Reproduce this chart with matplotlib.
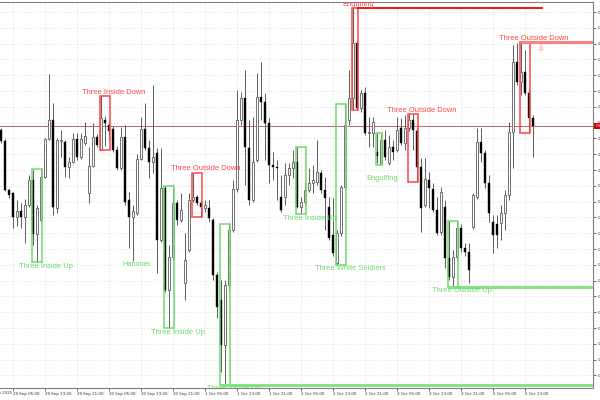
import matplotlib
matplotlib.use("Agg")
import matplotlib.pyplot as plt
from matplotlib.patches import Rectangle
import numpy as np

# hourly candles, 29 Sep 02:00 .. 6 Oct 11:00 (price in chart units)
open_ = [270, 259, 210, 207, 183, 189, 183, 195, 220, 166,
         180, 223, 261, 280, 192, 259, 258, 233, 238, 261,
         243, 257, 207, 234, 263, 250, 280, 275, 271, 250,
         232, 263, 200, 183, 187, 241, 271, 252, 238, 247,
         160, 212, 110, 143, 197, 180, 117, 150, 200, 203,
         197, 192, 192, 180, 125, 100, 55, 115, 170, 211,
         280, 302, 252, 200, 240, 303, 298, 277, 235, 233,
         203, 203, 225, 232, 238, 193, 198, 210, 217, 218,
         227, 210, 193, 165, 137, 167, 213, 280, 302, 357,
         292, 307, 267, 267, 248, 237, 260, 237, 253, 250,
         272, 257, 272, 280, 269, 233, 195, 220, 211, 190,
         168, 193, 142, 123, 143, 172, 152, 148, 173, 203,
         258, 247, 217, 178, 176, 177, 187, 205, 268, 338,
         318, 328, 307, 282]
high = [272, 261, 211, 208, 200, 197, 201, 225, 230, 195,
        231, 262, 326, 297, 262, 270, 260, 243, 267, 267,
        267, 278, 253, 277, 266, 304, 284, 278, 274, 254,
        273, 275, 208, 195, 246, 283, 297, 260, 315, 252,
        252, 214, 155, 212, 200, 207, 167, 207, 227, 205,
        200, 200, 200, 182, 128, 120, 120, 176, 220, 310,
        308, 330, 280, 283, 327, 338, 307, 282, 248, 240,
        225, 237, 237, 250, 253, 203, 218, 232, 235, 260,
        230, 223, 203, 202, 170, 215, 296, 330, 392, 360,
        310, 313, 283, 283, 267, 267, 270, 265, 260, 283,
        282, 285, 286, 286, 272, 242, 242, 228, 217, 203,
        213, 200, 179, 150, 179, 176, 157, 157, 207, 272,
        272, 250, 225, 185, 185, 195, 210, 278, 355, 357,
        358, 350, 310, 285]
low = [257, 209, 202, 172, 174, 172, 157, 193, 155, 138,
       178, 222, 260, 185, 187, 243, 223, 222, 237, 240,
       241, 255, 197, 233, 253, 250, 254, 260, 248, 230,
       230, 195, 152, 139, 185, 240, 250, 222, 227, 127,
       158, 108, 72, 140, 175, 178, 100, 148, 198, 195,
       183, 188, 178, 120, 82, 28, 15, 110, 168, 208,
       275, 215, 195, 198, 238, 280, 240, 217, 220, 200,
       188, 195, 215, 222, 192, 186, 196, 208, 207, 215,
       207, 170, 160, 144, 135, 164, 210, 275, 290, 290,
       288, 265, 253, 253, 237, 235, 240, 235, 240, 248,
       255, 250, 269, 250, 218, 168, 193, 192, 188, 165,
       165, 132, 120, 113, 140, 148, 144, 117, 171, 201,
       238, 212, 178, 147, 152, 160, 170, 200, 232, 315,
       305, 305, 267, 243]
close = [259, 210, 205, 183, 189, 183, 195, 220, 166, 192,
         223, 261, 280, 193, 260, 260, 233, 238, 261, 243,
         261, 264, 234, 263, 255, 282, 277, 269, 250, 232,
         263, 198, 183, 189, 241, 271, 252, 238, 243, 160,
         212, 110, 143, 197, 180, 190, 140, 200, 203, 197,
         193, 195, 182, 125, 93, 55, 115, 170, 211, 280,
         302, 253, 200, 238, 303, 298, 277, 235, 233, 232,
         190, 225, 232, 238, 193, 198, 210, 217, 220, 228,
         210, 202, 162, 147, 167, 213, 275, 302, 357, 292,
         307, 267, 268, 278, 244, 260, 243, 253, 248, 270,
         257, 272, 280, 270, 233, 192, 221, 212, 190, 167,
         208, 142, 123, 143, 172, 152, 148, 130, 205, 258,
         247, 217, 187, 165, 165, 187, 205, 268, 338, 318,
         328, 307, 282, 274]

time_labels = ["29 Sep 05:00", "29 Sep 13:00", "29 Sep 21:00", "30 Sep 05:00",
               "30 Sep 13:00", "30 Sep 21:00", "1 Oct 05:00", "1 Oct 13:00",
               "1 Oct 21:00", "2 Oct 05:00", "2 Oct 13:00", "2 Oct 21:00",
               "3 Oct 05:00", "3 Oct 13:00", "3 Oct 21:00", "6 Oct 05:00",
               "6 Oct 13:00"]

# (name, first candle, last candle, direction)
patterns = [
    ("Three Inside Up", 8, 10, "bull"),
    ("Three Inside Down", 25, 27, "bear"),
    ("Hammer", 33, 33, "bull"),
    ("Three Inside Up", 41, 43, "bull"),
    ("Three Outside Down", 48, 50, "bear"),
    ("Three Inside Up", 55, 57, "bull"),
    ("Three Inside Up", 74, 76, "bull"),
    ("Three White Soldiers", 84, 86, "bull"),
    ("Engulfing", 88, 89, "bear"),
    ("Engulfing", 94, 95, "bull"),
    ("Three Outside Down", 102, 104, "bear"),
    ("Three Outside Up", 112, 114, "bull"),
    ("Three Outside Down", 130, 132, "bear"),
]

RED = "#ff4646"
GREEN = "#6fd86f"
PALE_RED = "#ff8080"
PALE_GREEN = "#86e286"

o = np.array(open_, dtype=float)
h = np.array(high, dtype=float)
l = np.array(low, dtype=float)
c = np.array(close, dtype=float)
idx = np.arange(len(c))
up = c >= o

fig = plt.figure(figsize=(6, 4), dpi=100)
ax = fig.add_axes([0, 12 / 400, 593 / 600, 386 / 400])
ax.set_xlim(-0.25, 148)
ax.set_ylim(12, 398)

# grid + axes
yt = np.arange(388, 12, -15.8)
ax.set_yticks(yt)
ax.set_yticklabels([f"{0.6655 - 0.0005 * i:.4f}" for i in range(len(yt))])
ax.yaxis.tick_right()
xt = 3 + 8 * np.arange(len(time_labels))
ax.set_xticks(xt)
ax.set_xticklabels(time_labels, ha="left")
ax.tick_params(axis="both", labelsize=2.9, length=2, width=0.5, pad=1.2, colors="#333333")
ax.grid(True, ls=(0, (1.5, 2.5)), color="#e0e0e0", lw=0.6)
ax.set_axisbelow(True)
for s in ["top", "right", "bottom"]:
    ax.spines[s].set_color("#808080")
    ax.spines[s].set_linewidth(0.8)
ax.spines["left"].set_visible(False)
fig.text(-13 / 600, 0.0175, "29 Sep 2025", fontsize=2.9, color="#333333", va="center")

# last price line + marker
ax.axhline(c[-1], color="#a05a5a", lw=0.6, zorder=1.5)
ax.text(1.004, c[-1], f"{0.6655 - (388 - c[-1]) / 15.8 * 0.0005:.5f}",
        transform=ax.get_yaxis_transform(), fontsize=3.2, color="white",
        va="center", ha="left", clip_on=False,
        bbox=dict(boxstyle="square,pad=0.25", fc="#c80000", ec="none"))

# candles
ax.vlines(idx, l, h, color="#5c5c5c", lw=0.7, zorder=2)
bot = np.minimum(o, c)
hgt = np.maximum(np.abs(c - o), 0.8)
ax.bar(idx[up], hgt[up], bottom=bot[up], width=0.62, color="white",
       edgecolor="#5c5c5c", lw=0.6, zorder=3)
ax.bar(idx[~up], hgt[~up], bottom=bot[~up], width=0.62, color="black",
       edgecolor="black", lw=0.3, zorder=3)

# pattern boxes, labels and levels
label_shift = {1: 1.0, 2: 0.25, 3: 1.25}
label_gap = {8: 3.5, 9: 13}
extend_to = {5: 148, 8: 135.5, 11: 148, 12: 148}
for i, (name, a, b, side) in enumerate(patterns):
    top = h[a:b + 1].max()
    bottom = l[a:b + 1].min()
    col = GREEN if side == "bull" else RED
    n = b - a + 1
    if n > 1:
        ax.add_patch(Rectangle((a - 0.35, bottom), b - a + 0.7, top - bottom,
                               fill=False, ec=col, lw=1.1, zorder=4))
    gap = label_gap.get(i, 4)
    ly = bottom - gap if side == "bull" else top + gap
    ax.text(b + label_shift[n], ly, name, color=col, fontsize=5.4,
            family="Liberation Sans", ha="center", va="center", zorder=5,
            clip_on=True)
    if i in extend_to:
        lvl = bottom if side == "bull" else top
        if i == 8:
            ax.hlines(lvl, b, extend_to[i], color="#ff0000", lw=1.3, zorder=4)
        else:
            lc = PALE_GREEN if side == "bull" else PALE_RED
            ax.hlines(lvl, a - 0.35, extend_to[i], color=lc, lw=2.2, zorder=4)

# signal arrow for the last pattern
ax.text(patterns[-1][2] + 2.75, h[130:133].max() - 6, "\u21e9", color=PALE_RED,
        fontsize=7, ha="center", va="center", family="DejaVu Sans", zorder=5)

fig.savefig("out.png", dpi=100)
